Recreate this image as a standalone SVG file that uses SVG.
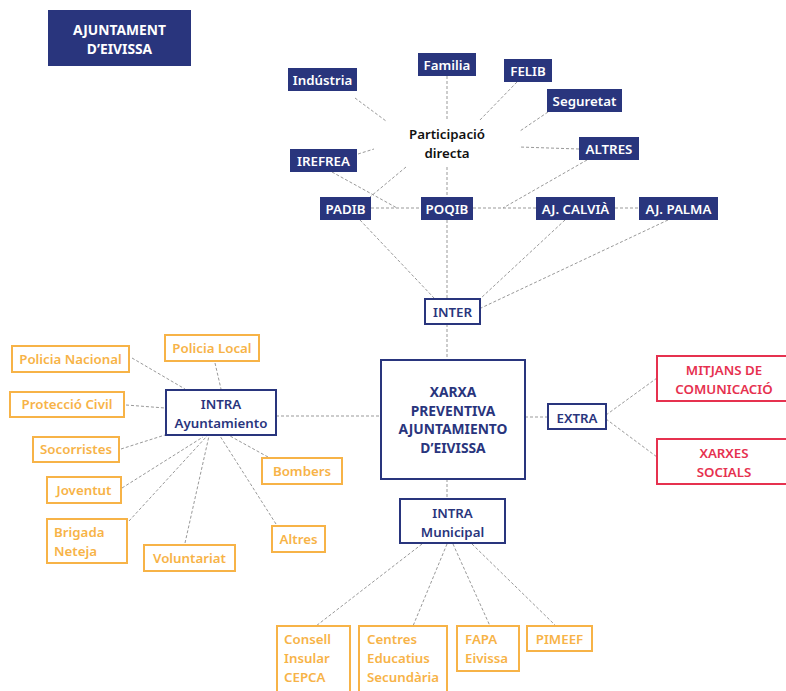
<svg xmlns="http://www.w3.org/2000/svg" width="786" height="691" viewBox="0 0 786 691">
<style>
text{font-family:"Noto Sans","Open Sans","DejaVu Sans",sans-serif;font-size:13.3px;font-weight:600}
.solid rect{fill:#29357d}
.solid text{fill:#fff;text-anchor:middle}
.nav rect{fill:#fff;stroke:#29357d;stroke-width:2}
.nav text{fill:#29357d;text-anchor:middle}
.org rect{fill:#fff;stroke:#f7b347;stroke-width:2}
.org text{fill:#f7b347;text-anchor:middle}
.org text.l{text-anchor:start}
.red rect{fill:#fff;stroke:#e6314f;stroke-width:2}
.red text{fill:#e6314f;text-anchor:middle}
text.b{font-weight:700;font-size:13.8px}
#connectors line{stroke:#999;stroke-width:1;stroke-dasharray:3 2}
</style>
<rect width="786" height="691" fill="#fff"/>
<g id="connectors">
<line x1="447" y1="76" x2="447" y2="120"/>
<line x1="517" y1="82" x2="479" y2="121"/>
<line x1="548" y1="112" x2="520" y2="131"/>
<line x1="579" y1="149" x2="519" y2="147"/>
<line x1="355" y1="98" x2="386" y2="121"/>
<line x1="358" y1="154" x2="374" y2="149"/>
<line x1="447" y1="167" x2="447" y2="197"/>
<line x1="406" y1="167" x2="370" y2="197"/>
<line x1="332" y1="172" x2="397" y2="208"/>
<line x1="371" y1="208" x2="421" y2="208"/>
<line x1="473" y1="208" x2="536" y2="208"/>
<line x1="587" y1="160" x2="503" y2="208"/>
<line x1="615" y1="208" x2="639" y2="208"/>
<line x1="360" y1="220" x2="434" y2="298"/>
<line x1="447" y1="220" x2="447" y2="298"/>
<line x1="565" y1="220" x2="481" y2="298"/>
<line x1="668" y1="220" x2="481" y2="308"/>
<line x1="447" y1="324" x2="447" y2="359"/>
<line x1="525" y1="417" x2="548" y2="417"/>
<line x1="606" y1="415" x2="657" y2="378"/>
<line x1="606" y1="419" x2="657" y2="457"/>
<line x1="276" y1="416" x2="381" y2="416"/>
<line x1="447" y1="479" x2="447" y2="499"/>
<line x1="132" y1="358" x2="185" y2="389"/>
<line x1="215" y1="363" x2="221" y2="389"/>
<line x1="126" y1="405" x2="165" y2="408"/>
<line x1="121" y1="449" x2="165" y2="435"/>
<line x1="122" y1="488" x2="203" y2="437"/>
<line x1="129" y1="521" x2="207" y2="436"/>
<line x1="185" y1="543" x2="209" y2="436"/>
<line x1="276" y1="524" x2="220" y2="436"/>
<line x1="268" y1="457" x2="230" y2="436"/>
<line x1="422" y1="544" x2="316" y2="626"/>
<line x1="447" y1="544" x2="413" y2="626"/>
<line x1="453" y1="544" x2="490" y2="626"/>
<line x1="472" y1="544" x2="556" y2="626"/>
</g>
<g id="title" class="solid"><rect x="48" y="10" width="143" height="56"/><text class="b" x="119.5" y="35">AJUNTAMENT</text><text class="b" x="119.5" y="54">D’EIVISSA</text></g>
<g id="industria" class="solid"><rect x="288" y="68" width="69" height="23"/><text x="322.5" y="84.5">Indústria</text></g>
<g id="familia" class="solid"><rect x="418" y="53" width="58" height="23"/><text x="447" y="69.5">Familia</text></g>
<g id="felib" class="solid"><rect x="504" y="59" width="48" height="23"/><text x="528" y="75.5">FELIB</text></g>
<g id="seguretat" class="solid"><rect x="547" y="89" width="75" height="23"/><text x="584.5" y="105.5">Seguretat</text></g>
<g id="altres-top" class="solid"><rect x="579" y="137" width="60" height="23"/><text x="609" y="153.5">ALTRES</text></g>
<g id="irefrea" class="solid"><rect x="290" y="149" width="67" height="23"/><text x="323.5" y="165.5">IREFREA</text></g>
<g id="padib" class="solid"><rect x="320" y="197" width="51" height="23"/><text x="345.5" y="213.5">PADIB</text></g>
<g id="poqib" class="solid"><rect x="421" y="197" width="52" height="23"/><text x="447" y="213.5">POQIB</text></g>
<g id="calvia" class="solid"><rect x="536" y="197" width="79" height="23"/><text x="575.5" y="213.5">AJ. CALVIÀ</text></g>
<g id="palma" class="solid"><rect x="639" y="197" width="79" height="23"/><text x="678.5" y="213.5">AJ. PALMA</text></g>
<g id="participacio"><text x="447" y="139" text-anchor="middle" font-size="14.5" fill="#111">Participació</text><text x="447" y="158" text-anchor="middle" font-size="14.5" fill="#111">directa</text></g>
<g id="inter" class="nav"><rect x="425" y="299" width="55" height="25"/><text x="452.5" y="316.5">INTER</text></g>
<g id="xarxa" class="nav"><rect x="381" y="360" width="144" height="119"/><text class="b" x="453" y="396.5">XARXA</text><text class="b" x="453" y="415.5">PREVENTIVA</text><text class="b" x="453" y="433.5">AJUNTAMIENTO</text><text class="b" x="453" y="452.5">D’EIVISSA</text></g>
<g id="extra" class="nav"><rect x="548" y="404" width="58" height="25"/><text x="577" y="422.5">EXTRA</text></g>
<g id="mitjans" class="red"><rect x="657" y="356" width="135" height="45"/><text x="724" y="374.5">MITJANS DE</text><text x="724" y="393.5">COMUNICACIÓ</text></g>
<g id="xarxes" class="red"><rect x="657" y="439" width="135" height="45"/><text x="724" y="457.5">XARXES</text><text x="724" y="476.5">SOCIALS</text></g>
<g id="intra-ayunt" class="nav"><rect x="166" y="390" width="110" height="45"/><text x="221" y="408.5">INTRA</text><text x="221" y="427.5">Ayuntamiento</text></g>
<g id="intra-mun" class="nav"><rect x="400" y="499" width="105" height="44"/><text x="452.5" y="517.5">INTRA</text><text x="452.5" y="536.5">Municipal</text></g>
<g id="pol-nac" class="org"><rect x="12" y="346" width="117" height="26"/><text x="70.5" y="363.5">Policia Nacional</text></g>
<g id="pol-loc" class="org"><rect x="165" y="335" width="94" height="26"/><text x="212" y="352.5">Policia Local</text></g>
<g id="prot-civ" class="org"><rect x="10" y="392" width="114" height="25"/><text x="67" y="409">Protecció Civil</text></g>
<g id="socorristes" class="org"><rect x="33" y="437" width="86" height="25"/><text x="76" y="454">Socorristes</text></g>
<g id="joventut" class="org"><rect x="47" y="477" width="74" height="26"/><text x="84" y="494.5">Joventut</text></g>
<g id="brigada" class="org"><rect x="47" y="519" width="80" height="44"/><text class="l" x="54" y="537">Brigada</text><text class="l" x="54" y="556">Neteja</text></g>
<g id="voluntariat" class="org"><rect x="144" y="545" width="91" height="26"/><text x="189.5" y="562.5">Voluntariat</text></g>
<g id="bombers" class="org"><rect x="262" y="458" width="80" height="26"/><text x="302" y="475.5">Bombers</text></g>
<g id="altres-org" class="org"><rect x="272" y="526" width="53" height="26"/><text x="298.5" y="543.5">Altres</text></g>
<g id="consell" class="org"><rect x="277" y="626" width="73" height="70"/><text class="l" x="284" y="643.5">Consell</text><text class="l" x="284" y="662.5">Insular</text><text class="l" x="284" y="681.5">CEPCA</text></g>
<g id="centres" class="org"><rect x="359" y="626" width="88" height="70"/><text class="l" x="367" y="643.5">Centres</text><text class="l" x="367" y="662.5">Educatius</text><text class="l" x="367" y="681.5">Secundària</text></g>
<g id="fapa" class="org"><rect x="457" y="626" width="62" height="45"/><text class="l" x="465" y="643.5">FAPA</text><text class="l" x="465" y="662.5">Eivissa</text></g>
<g id="pimeef" class="org"><rect x="527" y="626" width="65" height="25"/><text x="559.5" y="643.5">PIMEEF</text></g>
</svg>
